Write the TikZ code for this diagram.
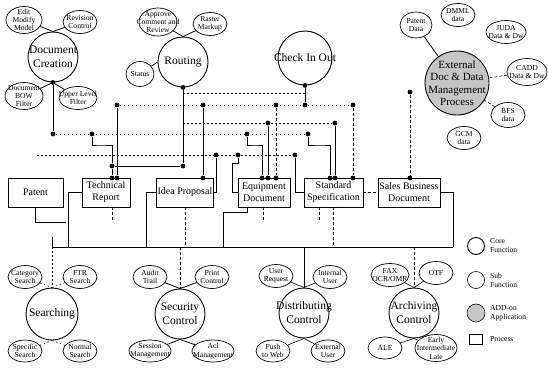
\documentclass[tikz,border=0pt]{standalone}
\usepackage{fontspec}
\setmainfont{Liberation Serif}
\usetikzlibrary{shapes.geometric}
\begin{document}
\begin{tikzpicture}[x=1pt,y=-1pt,
 core/.style={circle,draw,line width=0.9pt,minimum size=50pt,inner sep=0pt},
 coretext/.style={align=center,font=\fontsize{11.5}{14}\selectfont,inner sep=0pt},
 sat/.style={ellipse,draw,line width=0.7pt,minimum width=34pt,minimum height=23pt,inner sep=0pt},
 sattext/.style={align=center,font=\fontsize{7.6}{8.4}\selectfont,inner sep=0pt},
 proc/.style={rectangle,draw,line width=0.7pt,minimum height=29pt,inner sep=1pt,align=center,font=\fontsize{10}{12}\selectfont},
 jd/.style={circle,fill=black,inner sep=0pt,minimum size=4.8pt},
 wire/.style={line width=0.8pt},
 thinwire/.style={line width=0.6pt},
 dotwire/.style={line width=0.55pt,dash pattern=on 1.5pt off 2.5pt},
 dashwire/.style={line width=0.55pt,dash pattern=on 3pt off 2pt},
 legtext/.style={anchor=west,align=left,font=\fontsize{7.6}{9}\selectfont,inner sep=0pt},
 addon/.style={fill=gray!45}
]
\newcommand\Sat[4][]{\node[sat,#1] (#2) at (#3) {}; \node[sattext] (#2-t) at (#2) {#4};}
\newcommand\Core[4][]{\node[core,#1] (#2) at (#3) {}; \node[coretext] (#2-t) at (#2) {#4};}
\useasboundingbox (0,0) rectangle (548,369);

% ---------- top core functions ----------
\Core{dc}{53,57}{Document\\Creation}
\Sat[minimum width=36pt,minimum height=27pt]{edit}{24,20}{Edit\\Modify\\Model}
\Sat{rev}{80,22}{Revision\\Control}
\Sat[minimum width=38pt,minimum height=27pt]{bow}{24,96}{Document\\BOW\\Filter}
\Sat[minimum width=38pt]{upl}{78,98}{Upper Level\\Filter}
\draw[wire] (edit) -- (dc.north);
\draw[wire] (rev) -- (dc.north);
\draw[wire] (bow) -- (dc.south);
\draw[wire] (upl) -- (dc.south);

\Core{rt}{183,62}{Routing}
\Sat[minimum width=38pt,minimum height=28pt]{appr}{158,22}{Approve\\Comment and\\Review}
\Sat{rast}{210,24}{Raster\\Markup}
\Sat[minimum width=28pt,minimum height=25pt]{stat}{140,74}{Status}
\draw[wire] (appr) -- (rt.north);
\draw[wire] (rast) -- (rt.north);
\draw[wire] (stat) -- (rt.west);

\Core[minimum size=54pt]{cio}{305,58}{Check In Out}

\node[core,addon,minimum size=64pt] (ext) at (457,83) {};
\node[coretext,font=\fontsize{11}{12.5}\selectfont] (ext-t) at (ext) {External\\Doc \& Data\\Management\\Process};
\Sat[minimum width=32pt,minimum height=26pt]{patd}{416,25}{Patent\\Data}
\Sat{dmml}{458,15}{DMML\\data}
\Sat[minimum width=40pt]{juda}{506,32}{JUDA\\Data \& Dw}
\Sat[minimum width=40pt,minimum height=27pt]{cadd}{527,72}{CADD\\Data \& Dw}
\Sat[minimum height=25pt]{bfs}{508,115}{BFS\\data}
\Sat{gcm}{464,138}{GCM\\data}
\draw[wire] (patd) -- (ext);
\draw[dashwire] (cadd) -- (ext);
\draw[dashwire] (bfs) -- (ext);

% ---------- process boxes ----------
\node[proc,minimum width=55pt] (pat) at (35.5,192.5) {Patent};
\node[proc,minimum width=48pt] (tech) at (106,192.5) {Technical\\Report};
\node[proc,minimum width=54pt] (idea) at (185,192.5) {Idea Proposal};
\node[proc,minimum width=52pt] (equip) at (264,192.5) {Equipment\\Document};
\node[proc,minimum width=59pt] (std) at (333.5,192.5) {Standard\\Specification};
\node[proc,minimum width=62pt] (sales) at (409,192.5) {Sales Business\\Document};

% ---------- junctions ----------
\node[jd] (dA) at (dc.south) {};
\node[jd] (dB) at (53,134) {};
\node[jd] (dC) at (92,134) {};
\node[jd] (dD) at (117,105) {};
\node[jd] (dE) at (112,166) {};
\node[jd] (dF) at (183,166) {};
\node[jd] (dG) at (rt.south) {};
\node[jd] (dH) at (cio.south) {};
\node[jd] (dI) at (305,105) {};
\node[jd] (dJ) at (203,105) {};
\node[jd] (dK) at (276,105) {};
\node[jd] (dL) at (353,105) {};
\node[jd] (dM) at (268,123) {};
\node[jd] (dN) at (335,123) {};
\node[jd] (dO) at (247,134) {};
\node[jd] (dP) at (308,134) {};
\node[jd] (dQ) at (216,155) {};
\node[jd] (dR) at (238,155) {};
\node[jd] (dS) at (295,155) {};
\node[jd] (tA) at (112,178) {};
\node[jd] (tB) at (117,178) {};
\node[jd] (iA) at (203,178) {};
\node[jd] (eA) at (262,178) {};
\node[jd] (eB) at (268,178) {};
\node[jd] (eC) at (276,178) {};
\node[jd] (sA) at (330,178) {};
\node[jd] (sB) at (335,178) {};
\node[jd] (sC) at (353,178) {};
\node[jd] (slA) at (410,178) {};
\node[jd] (xA) at (410,92) {};
\coordinate (r1a) at (183,93);
\coordinate (r1b) at (305,93);
\coordinate (r3a) at (183,123);
\coordinate (r5a) at (37,155);

% dotted distribution rows
\draw[dotwire] (r1a) -- (r1b);
\draw[dotwire] (dD) -- (dL);
\draw[dotwire] (r3a) -- (dN);
\draw[dotwire] (dB) -- (dP);
\draw[dotwire] (r5a) -- (dS);

% solid drops
\draw[wire] (dA) -- (dB);
\draw[wire] (dG) -- (dF);
\draw[wire] (dD) -- (tB);
\draw[wire] (dE) -- (tA);
\draw[wire] (dE) -- (dF);
\draw[wire] (dC) |- (100,145) -| (dE);
\draw[wire] (dJ) -- (iA);
\draw[wire] (dM) -- (eB);
\draw[wire] (dN) -- (sB);
\draw[wire] (dO) |- (255,145) -| (eA);
\draw[wire] (dP) |- (320,145) -| (sA);
\draw[wire] (dR) |- (232,163) |- (equip.west);
\draw[wire] (dS) |- (std.west);
\draw[wire] (dQ) |- (idea.east);
\draw[wire] (dH) -- (dI);
\draw[dashwire] (dK) -- (eC);
\draw[dashwire] (dL) -- (sC);
\draw[dashwire] (xA) -- (slA);
\draw[dashwire] (std.east) -- (sales.west);

% ---------- bottom bus ----------
\coordinate (busL) at (52,247);
\coordinate (busR) at (453,247);
\coordinate (pEnd) at (66,222);
\coordinate (bT) at (68,247);
\coordinate (bI) at (146,247);
\coordinate (bE) at (223,247);
\draw[wire] (busL) -- (busR);
\draw[wire] (52,237) -- (busL);
\draw[wire] (pat.south) |- (pEnd);
\draw[wire] (tech.west) -| (bT);
\draw[dashwire] ([xshift=6pt]tech.south) -- ++(0,15);
\draw[wire] (idea.west) -| (bI);
\draw[dashwire] (idea.south) -- (idea.south |- bI);
\draw[wire] ([xshift=-17pt]equip.south) |- (223,212) -- (bE);
\draw[dashwire] ([xshift=-1pt]equip.south) -- ++(0,14);
\draw[dashwire] ([xshift=-14.5pt]std.south) -- ++(0,15);
\draw[dashwire] (std.south) -- (std.south |- busL);
\draw[wire] (sales.east) -| (busR);

% ---------- bottom core functions ----------
\Core[minimum size=52pt]{srch}{52,314}{Searching}
\Sat{cat}{25,277}{Category\\Search}
\Sat{ftr}{80,277}{FTR\\Search}
\Sat[minimum height=22pt]{spec}{25,351}{Specific\\Search}
\Sat[minimum height=22pt]{norm}{80,351}{Normal\\Search}
\draw[dotwire] (busL) -- (srch.north);
\draw[dotwire] (cat) -- (srch.north);
\draw[dotwire] (ftr) -- (srch.north);
\draw[dotwire] (spec) -- (srch.south);
\draw[dotwire] (norm) -- (srch.south);

\Core{sec}{180,314}{Security\\Control}
\Sat{aud}{150,277}{Audit\\Trail}
\Sat{prt}{212,277}{Print\\Control}
\Sat[minimum width=42pt,minimum height=22pt]{ses}{150,351}{Session\\Management}
\Sat[minimum width=42pt,minimum height=22pt]{acl}{213,351}{Acl\\Management}
\draw[dashwire] (sec.north |- busL) -- (sec.north);
\draw[wire] (aud) -- (sec.north);
\draw[wire] (prt) -- (sec.north);
\draw[wire] (ses) -- (sec.south);
\draw[wire] (acl) -- (sec.south);

\Core{dist}{304,313}{Distributing\\Control}
\Sat{usr}{276,276}{User\\Request}
\Sat{intu}{330,277}{Internal\\User}
\Sat[minimum height=22pt]{push}{273,351}{Push\\to Web}
\Sat[minimum height=22pt]{extu}{328,351}{External\\User}
\draw[wire] (dist.north |- busL) -- (dist.north);
\draw[thinwire] (usr) -- (dist.north);
\draw[thinwire] (intu) -- (dist.north);
\draw[thinwire] (push) -- (dist.south);
\draw[thinwire] (extu) -- (dist.south);

\Core{arch}{414,313}{Archiving\\Control}
\Sat[minimum width=38pt]{fax}{390,275}{FAX\\OCR/OMR}
\Sat{otf}{436,273}{OTF}
\Sat[minimum height=22pt]{ale}{385,348}{ALE}
\Sat[minimum width=42pt,minimum height=27pt]{early}{436,348}{Early\\Intermediate\\Late}
\draw[dashwire] (arch.north |- busL) -- (arch.north);
\draw[thinwire] (fax) -- (arch.north);
\draw[thinwire] (otf) -- (arch.north);
\draw[thinwire] (ale) -- (arch.south);
\draw[thinwire] (early) -- (arch.south);

% ---------- legend ----------
\node[core,minimum size=17pt] (lg1) at (476,246) {};
\node[legtext] (lg1-t) at (490,246) {Core\\Function};
\node[circle,draw,line width=0.6pt,minimum size=17pt,inner sep=0pt] (lg2) at (476,280) {};
\node[legtext] (lg2-t) at (490,280) {Sub\\Function};
\node[circle,draw,addon,line width=0.6pt,minimum size=18pt,inner sep=0pt] (lg3) at (476,313) {};
\node[legtext] (lg3-t) at (490,313) {ADD-on\\Application};
\node[rectangle,draw,line width=0.6pt,minimum width=13pt,minimum height=10pt,inner sep=0pt] (lg4) at (476,339) {};
\node[legtext] (lg4-t) at (490,339) {Process};
\end{tikzpicture}
\end{document}
